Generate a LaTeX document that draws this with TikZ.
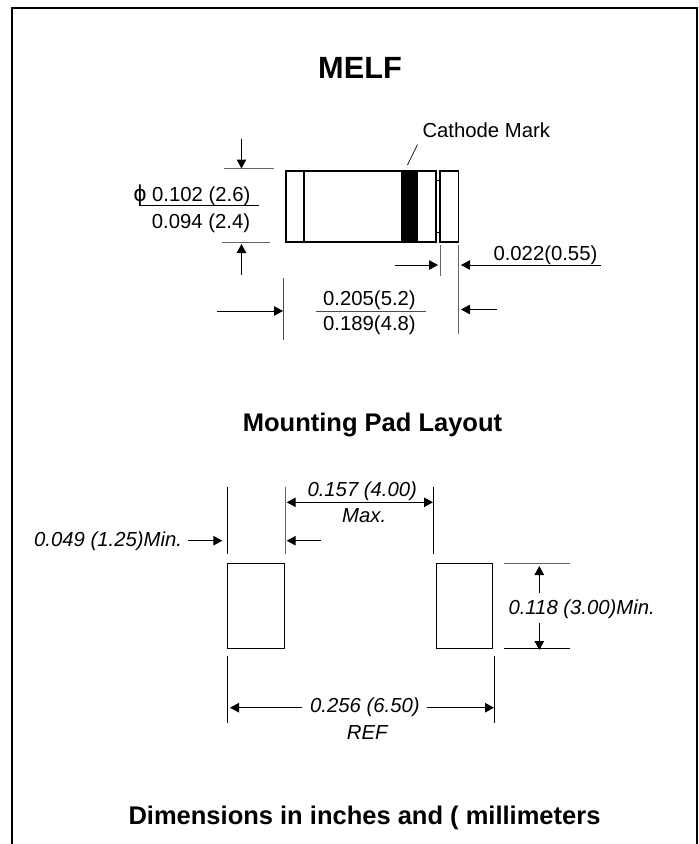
\documentclass[tikz,border=0pt]{standalone}
\usepackage{fontspec}
\setmainfont{Liberation Sans}
\usetikzlibrary{arrows.meta}
\tikzset{
  x=1pt,y=-1pt,
  lbl/.style={inner sep=0pt,font=\fontsize{20.3}{24}\selectfont},
  ilbl/.style={inner sep=0pt,font=\fontsize{20.3}{24}\selectfont\itshape},
  ttl/.style={inner sep=0pt,font=\fontsize{25.5}{28}\selectfont\bfseries},
  part/.style={draw,line width=1.6pt,outer sep=0pt},
  pad/.style={draw,line width=0.9pt,outer sep=0pt},
  ext/.style={draw,line width=0.9pt},
  gext/.style={draw=black!60,line width=1pt},
  dim/.style={draw,line width=1pt,-{Triangle[length=9pt,width=9.5pt]}},
}
\begin{document}
\begin{tikzpicture}
\useasboundingbox (0,0) rectangle (699,844);
\coordinate (bl) at (12.3,844); \coordinate (tl) at (12.3,8); \coordinate (tr) at (696.5,8); \coordinate (br) at (696.5,844);
\draw[line width=2pt] (bl) -- (tl) -- (tr) -- (br);
\node[inner sep=0pt,font=\fontsize{30.7}{34}\selectfont\bfseries] (melf) at (360,67.5) {MELF};
\node[ttl] (pad) at (372.5,425) {Mounting Pad Layout};
\node[ttl] (dimn) at (364.5,818) {Dimensions in inches and ( millimeters};
% body
\node[part,minimum width=150.3pt,minimum height=71.5pt,inner sep=0pt,anchor=north west] (body) at (285.7,170.7) {};
\node[part,minimum width=18.3pt,minimum height=71.5pt,inner sep=0pt,anchor=north west] (cap) at (440,170.7) {};
\node[fill=black,minimum width=16.5pt,minimum height=71.5pt,inner sep=0pt,outer sep=0pt,anchor=north west] (band) at (401.3,170.7) {};
\coordinate (b1) at (304,170.7); \coordinate (b2) at (304,242.2);
\draw[line width=1.5pt] (b1) -- (b2);
\coordinate (t1) at (436,180.5); \coordinate (t2) at (440,180.5);
\coordinate (t3) at (436,232.3); \coordinate (t4) at (440,232.3);
\draw[line width=1pt] (t1) -- (t2) (t3) -- (t4);
\node[lbl,anchor=base west] (cath) at (422.3,137.8) {Cathode Mark};
\coordinate (c1) at (417.5,144.5); \coordinate (c2) at (407.5,165);
\draw[line width=0.7pt] (c1) -- (c2);
% diameter
\coordinate (e1) at (224,168.7); \coordinate (e2) at (274,168.7);
\coordinate (e3) at (222,242); \coordinate (e4) at (270,242);
\draw[gext] (e1) -- (e2) (e3) -- (e4);
\coordinate (a1) at (241.5,138.5); \coordinate (a2) at (241.5,168.5);
\coordinate (a3) at (241.5,274.5); \coordinate (a4) at (241.5,244);
\draw[dim] (a1) -- (a2);
\draw[dim] (a3) -- (a4);
\node[lbl,anchor=base west] (d1) at (152,201.5) {0.102 (2.6)};
\node[inner sep=0pt,anchor=base west,font=\fontsize{23}{24}\selectfont] (phi) at (133.5,201.5) {\char"03D5};
\coordinate (f1) at (139.3,205.3); \coordinate (f2) at (259.3,205.3);
\draw[line width=0.9pt] (f1) -- (f2);
\node[lbl,anchor=base west] (d2) at (151.7,228.3) {0.094 (2.4)};
% length
\coordinate (l1) at (283.7,278); \coordinate (l2) at (283.7,340);
\draw[draw=black!70,line width=0.9pt] (l1) -- (l2);
\coordinate (l3) at (458,245); \coordinate (l4) at (458,334);
\draw[gext] (l3) -- (l4);
\coordinate (l5) at (217,311); \coordinate (l6) at (283,311);
\draw[dim] (l5) -- (l6);
\coordinate (l7) at (497,309.5); \coordinate (l8) at (461,309.5);
\draw[dim] (l7) -- (l8);
\node[lbl,anchor=base west] (h1) at (323,305) {0.205(5.2)};
\coordinate (g1) at (316,311); \coordinate (g2) at (426,311);
\draw[draw=black!70,line width=0.9pt] (g1) -- (g2);
\node[lbl,anchor=base west] (h2) at (323,330.7) {0.189(4.8)};
% cap gap
\coordinate (m1) at (440,245); \coordinate (m2) at (440,276);
\draw[gext] (m1) -- (m2);
\coordinate (m3) at (395,265); \coordinate (m4) at (438,265);
\draw[dim] (m3) -- (m4);
\coordinate (m5) at (600.5,265); \coordinate (m6) at (461,265);
\draw[dim] (m5) -- (m6);
\node[lbl,anchor=base west] (s1) at (493.3,260) {0.022(0.55)};
% pads
\node[pad,minimum width=56.7pt,minimum height=84.6pt,inner sep=0pt,anchor=north west] (padl) at (227.3,563.7) {};
\node[pad,minimum width=56.7pt,minimum height=84.6pt,inner sep=0pt,anchor=north west] (padr) at (436,563.7) {};
% pad dims
\coordinate (x1) at (227.3,486.7); \coordinate (x2) at (227.3,554.3);
\draw[ext] (x1) -- (x2);
\coordinate (x3) at (285.7,486.7); \coordinate (x4) at (285.7,554.3);
\draw[gext] (x3) -- (x4);
\coordinate (x5) at (433.3,486.7); \coordinate (x6) at (433.3,554.3);
\draw[ext] (x5) -- (x6);
\node[ilbl,anchor=base west] (w0) at (34,546.2) {0.049 (1.25)Min.};
\coordinate (y1) at (188.3,540.7); \coordinate (y2) at (222.3,540.7);
\draw[dim] (y1) -- (y2);
\coordinate (y3) at (320.7,540.7); \coordinate (y4) at (286.7,540.7);
\draw[dim] (y3) -- (y4);
\node[ilbl,anchor=base west] (w1) at (307.3,496) {0.157 (4.00)};
\coordinate (y6) at (286.7,502.3); \coordinate (y8) at (433,502.3);
\draw[dim,{Triangle[length=9pt,width=9.5pt]}-{Triangle[length=9pt,width=9.5pt]}] (y6) -- (y8);
\node[ilbl,anchor=base west] (w2) at (342,522) {Max.};
\coordinate (z1) at (227.3,655.7); \coordinate (z2) at (227.3,722.7);
\draw[ext] (z1) -- (z2);
\coordinate (z3) at (494.3,655.7); \coordinate (z4) at (494.3,722.7);
\draw[ext] (z3) -- (z4);
\node[ilbl,anchor=base west] (r1) at (310,712.3) {0.256 (6.50)};
\coordinate (z5) at (302.3,707.7); \coordinate (z6) at (230,707.7);
\draw[dim] (z5) -- (z6);
\coordinate (z7) at (427.3,707.7); \coordinate (z8) at (494,707.7);
\draw[dim] (z7) -- (z8);
\node[ilbl,anchor=base west] (r2) at (346.7,739.5) {REF};
\coordinate (v1) at (504.3,563.7); \coordinate (v2) at (570,563.7);
\draw[gext] (v1) -- (v2);
\coordinate (v3) at (504.3,648.3); \coordinate (v4) at (570,648.3);
\draw[ext] (v3) -- (v4);
\coordinate (u1) at (539.3,593.3); \coordinate (u2) at (539.3,566);
\draw[dim] (u1) -- (u2);
\coordinate (u3) at (539.3,622.7); \coordinate (u4) at (539.3,650);
\draw[dim] (u3) -- (u4);
\node[ilbl,anchor=base west] (q) at (508.3,614) {0.118 (3.00)Min.};
\end{tikzpicture}
\end{document}
